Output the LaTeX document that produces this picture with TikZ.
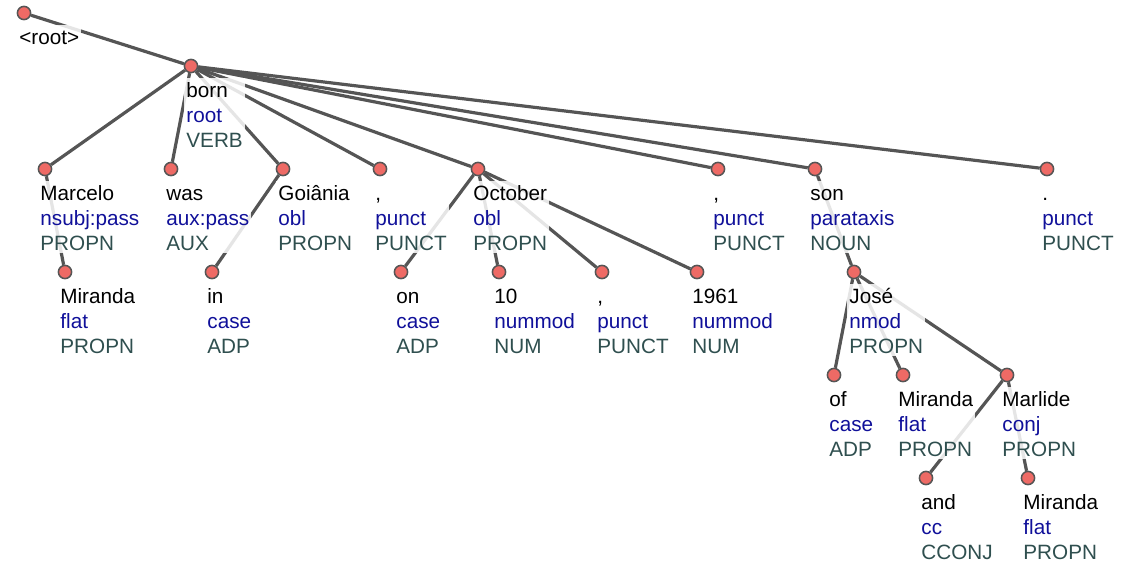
\documentclass[tikz,border=0pt]{standalone}
\usepackage{fontspec}
\setmainfont{Liberation Sans}
\usetikzlibrary{backgrounds}
\definecolor{edgegray}{HTML}{555555}
\definecolor{dotred}{HTML}{EE6A65}
\definecolor{relblue}{HTML}{10109A}
\definecolor{posgreen}{HTML}{2F4F4F}
\newcommand{\tok}[3]{\strut#1\\\textcolor{relblue}{#2}\\\textcolor{posgreen}{#3}}
\begin{document}
\begin{tikzpicture}[x=0.5pt,y=-0.5pt,
  dot/.style={draw=edgegray,fill=dotred,shape=circle,minimum size=6.6pt,inner sep=0pt,line width=0.75pt},
  arc/.style={edgegray,line width=1.6pt},
  word/.style={anchor=north west,align=left,fill=white,fill opacity=0.85,text opacity=1,inner sep=1pt,font=\fontsize{10.35}{12.5}\selectfont}]
\useasboundingbox (0,0) rectangle (1129,562);
% labels
\node [word,name=troot] at (17,24.5){\strut<root>};
\node [word,name=tborn] at (184,77.5){\tok{born}{root}{VERB}};
\node [word,name=tmarcelo] at (38,180.5){\tok{Marcelo}{nsubj:pass}{PROPN}};
\node [word,name=twas] at (164,180.5){\tok{was}{aux:pass}{AUX}};
\node [word,name=tgoiania] at (276,180.5){\tok{Goiânia}{obl}{PROPN}};
\node [word,name=tcomma1] at (373,180.5){\tok{,}{punct}{PUNCT}};
\node [word,name=toctober] at (471,180.5){\tok{October}{obl}{PROPN}};
\node [word,name=tcomma2] at (711,180.5){\tok{,}{punct}{PUNCT}};
\node [word,name=tson] at (808,180.5){\tok{son}{parataxis}{NOUN}};
\node [word,name=tperiod] at (1040,180.5){\tok{.}{punct}{PUNCT}};
\node [word,name=tmiranda1] at (58,283.5){\tok{Miranda}{flat}{PROPN}};
\node [word,name=tin] at (205,283.5){\tok{in}{case}{ADP}};
\node [word,name=ton] at (394,283.5){\tok{on}{case}{ADP}};
\node [word,name=tten] at (492,283.5){\tok{10}{nummod}{NUM}};
\node [word,name=tcomma3] at (595,283.5){\tok{,}{punct}{PUNCT}};
\node [word,name=tyear] at (690,283.5){\tok{1961}{nummod}{NUM}};
\node [word,name=tjose] at (847,283.5){\tok{José}{nmod}{PROPN}};
\node [word,name=tof] at (827,386.5){\tok{of}{case}{ADP}};
\node [word,name=tmiranda2] at (896,386.5){\tok{Miranda}{flat}{PROPN}};
\node [word,name=tmarlide] at (1000,386.5){\tok{Marlide}{conj}{PROPN}};
\node [word,name=tand] at (919,489.5){\tok{and}{cc}{CCONJ}};
\node [word,name=tmiranda3] at (1021,489.5){\tok{Miranda}{flat}{PROPN}};
% tokens
\node [dot,name=root] at (24,13){};
\node [dot,name=born] at (191,66){};
\node [dot,name=marcelo] at (45,169){};
\node [dot,name=was] at (171,169){};
\node [dot,name=goiania] at (283,169){};
\node [dot,name=comma1] at (380,169){};
\node [dot,name=october] at (478,169){};
\node [dot,name=comma2] at (718,169){};
\node [dot,name=son] at (815,169){};
\node [dot,name=period] at (1047,169){};
\node [dot,name=miranda1] at (65,272){};
\node [dot,name=in] at (212,272){};
\node [dot,name=on] at (401,272){};
\node [dot,name=ten] at (499,272){};
\node [dot,name=comma3] at (602,272){};
\node [dot,name=year] at (697,272){};
\node [dot,name=jose] at (854,272){};
\node [dot,name=of] at (834,375){};
\node [dot,name=miranda2] at (903,375){};
\node [dot,name=marlide] at (1007,375){};
\node [dot,name=and] at (926,478){};
\node [dot,name=miranda3] at (1028,478){};
% arcs
\begin{scope}[on background layer]
\draw[arc] (root)--(born);
\draw[arc] (born)--(marcelo);
\draw[arc] (born)--(was);
\draw[arc] (born)--(goiania);
\draw[arc] (born)--(comma1);
\draw[arc] (born)--(october);
\draw[arc] (born)--(comma2);
\draw[arc] (born)--(son);
\draw[arc] (born)--(period);
\draw[arc] (marcelo)--(miranda1);
\draw[arc] (goiania)--(in);
\draw[arc] (october)--(on);
\draw[arc] (october)--(ten);
\draw[arc] (october)--(comma3);
\draw[arc] (october)--(year);
\draw[arc] (son)--(jose);
\draw[arc] (jose)--(of);
\draw[arc] (jose)--(miranda2);
\draw[arc] (jose)--(marlide);
\draw[arc] (marlide)--(and);
\draw[arc] (marlide)--(miranda3);
\end{scope}
\end{tikzpicture}
\end{document}
